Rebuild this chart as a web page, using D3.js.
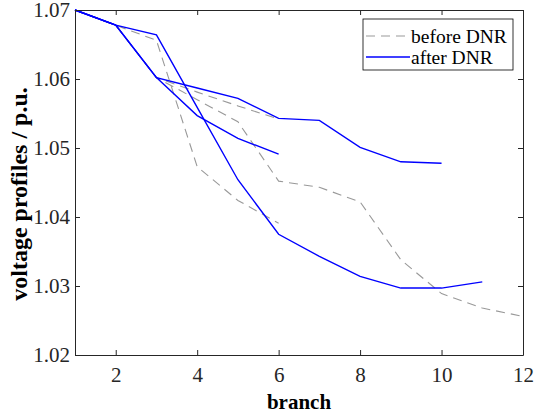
<!DOCTYPE html>
<html>
<head>
<meta charset="utf-8">
<script src="https://cdn.jsdelivr.net/npm/d3@7"></script>
<style>
  body { margin: 0; background: #fff; }
  svg { display: block; }
</style>
</head>
<body>
<svg id="chart" width="537" height="414"></svg>
<script>
// ---- data ----
const branches = [1, 2, 3, 4, 5, 6, 7, 8, 9, 10, 11, 12];
const xTicks = [2, 4, 6, 8, 10, 12];
const yTicks = [1.02, 1.03, 1.04, 1.05, 1.06, 1.07];

const before1 = [1.07, 1.0678, 1.0656, 1.0473, 1.0424, 1.0391];
const before2 = [1.07, 1.0678, 1.0602, 1.0581, 1.0561, 1.0542];
const before3 = [1.07, 1.0678, 1.0602, 1.0570, 1.0538, 1.0452, 1.0443, 1.0422, 1.0338, 1.0289, 1.0268, 1.0256];

const after1 = [1.07, 1.0678, 1.0664, 1.0559, 1.0454, 1.0375, 1.0343, 1.0314, 1.0297, 1.0297, 1.0306];
const after2 = [1.07, 1.0678, 1.0602, 1.0587, 1.0572, 1.0543, 1.0540, 1.0501, 1.0480, 1.0478];
const after3 = [1.07, 1.0678, 1.0602, 1.0547, 1.0514, 1.0491];

const beforeSeries = [before1, before2, before3];
const afterSeries = [after1, after2, after3];
const legendLabels = ["before DNR", "after DNR"];

// ---- layout ----
const W = 537, H = 414;
const m = { left: 75, right: 14, top: 10, bottom: 59 };
const svg = d3.select("#chart");
const FONT = '"Liberation Serif"';
const axisColor = "#262626";

const x = d3.scaleLinear().domain([1, 12]).range([m.left, W - m.right]);
const y = d3.scaleLinear().domain([1.02, 1.07]).range([H - m.bottom, m.top]);

const line = d3.line()
  .x((d, i) => x(branches[i]))
  .y(d => y(d));

// series
const g = svg.append("g");
beforeSeries.forEach(s => {
  g.append("path").datum(s).attr("d", line)
    .attr("fill", "none").attr("stroke", "#999999")
    .attr("stroke-width", 1.1).attr("stroke-dasharray", "9,6");
});
afterSeries.forEach(s => {
  g.append("path").datum(s).attr("d", line)
    .attr("fill", "none").attr("stroke", "#0000ff")
    .attr("stroke-width", 1.4);
});

// axes
const tickLen = 5;
const fontSize = 21;
const xAxis = svg.append("g").attr("transform", `translate(0,${H - m.bottom})`)
  .call(d3.axisBottom(x).tickValues(xTicks).tickSizeInner(-tickLen).tickSizeOuter(0).tickPadding(12).tickFormat(d3.format("d")));
const xAxisTop = svg.append("g").attr("transform", `translate(0,${m.top})`)
  .call(d3.axisTop(x).tickValues(xTicks).tickSizeInner(-tickLen).tickSizeOuter(0).tickFormat(""));
const yAxis = svg.append("g").attr("transform", `translate(${m.left},0)`)
  .call(d3.axisLeft(y).tickValues(yTicks).tickSizeInner(-tickLen).tickSizeOuter(0).tickPadding(5).tickFormat(d3.format(".2f")));
const yAxisR = svg.append("g").attr("transform", `translate(${W - m.right},0)`)
  .call(d3.axisRight(y).tickValues(yTicks).tickSizeInner(-tickLen).tickSizeOuter(0).tickFormat(""));

[xAxis, xAxisTop, yAxis, yAxisR].forEach(a => {
  a.select(".domain").attr("stroke", axisColor).attr("stroke-width", 1);
  a.selectAll(".tick line").attr("stroke", axisColor);
  a.selectAll(".tick text").attr("fill", axisColor)
    .style("font-family", FONT).style("font-size", fontSize + "px");
});

// axis labels
svg.append("text")
  .attr("x", (m.left + W - m.right) / 2).attr("y", 409)
  .attr("text-anchor", "middle")
  .style("font-family", FONT).style("font-weight", "bold").style("font-size", "21px")
  .attr("fill", "#000")
  .text("branch");
svg.append("text")
  .attr("transform", `translate(27,194) rotate(-90)`)
  .attr("text-anchor", "middle")
  .style("font-family", FONT).style("font-weight", "bold").style("font-size", "24px")
  .attr("fill", "#000")
  .text("voltage profiles / p.u.");

// legend
const lg = svg.append("g").attr("transform", "translate(363,19)");
lg.append("rect").attr("width", 150).attr("height", 51)
  .attr("fill", "#fff").attr("stroke", "#000").attr("stroke-width", 0.8);
const legendStyles = [
  { stroke: "#999999", dash: "9,6", w: 1.1 },
  { stroke: "#0000ff", dash: null, w: 1.4 }
];
legendLabels.forEach((lab, i) => {
  const yy = 17 + i * 21;
  lg.append("line").attr("x1", 3).attr("x2", 47).attr("y1", yy).attr("y2", yy)
    .attr("stroke", legendStyles[i].stroke).attr("stroke-width", legendStyles[i].w)
    .attr("stroke-dasharray", legendStyles[i].dash);
  lg.append("text").attr("x", 48).attr("y", yy).attr("dy", "0.35em")
    .style("font-family", FONT).style("font-size", "19.5px")
    .attr("fill", "#000").text(lab);
});
</script>
</body>
</html>
